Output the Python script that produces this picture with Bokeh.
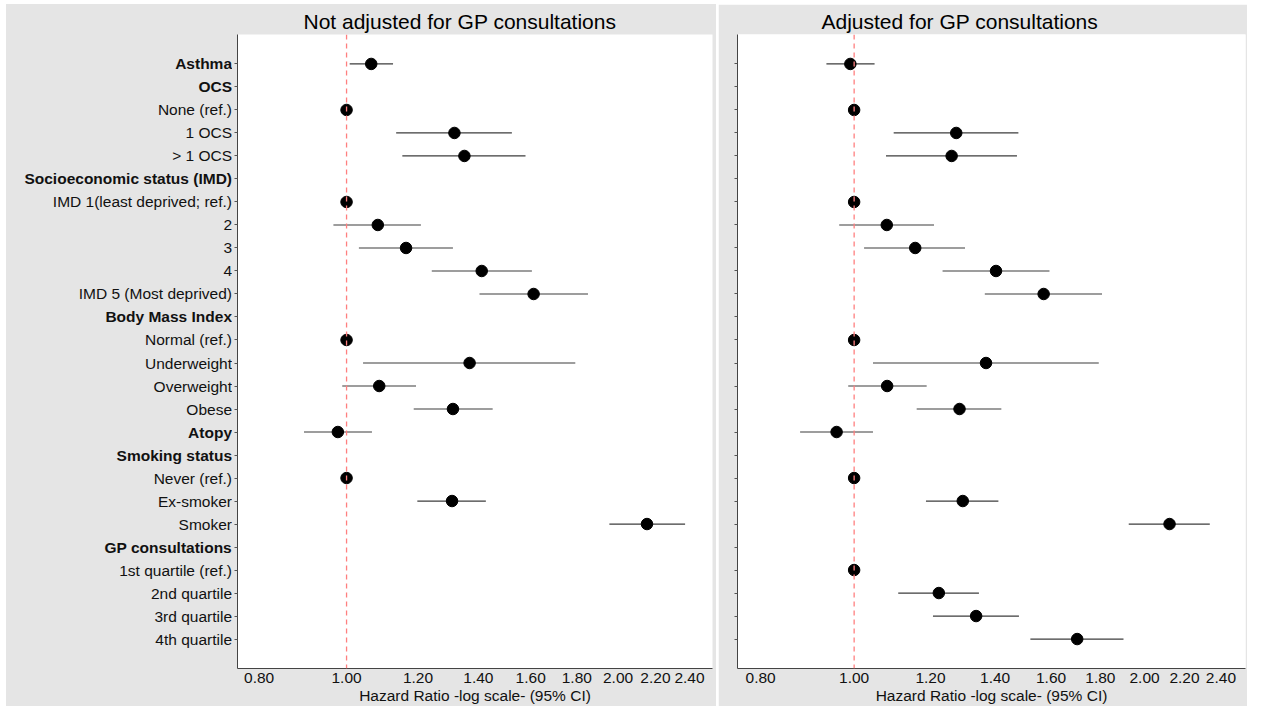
import math
from bokeh.plotting import figure
from bokeh.models import Range1d, FixedTicker, PrintfTickFormatter, Span, ColumnDataSource, Spacer
from bokeh.layouts import row, column
from bokeh.core.properties import value
from bokeh.embed import file_html
from bokeh.resources import INLINE

nan = float("nan")

labels = ["Asthma", "OCS", "None (ref.)", "1 OCS", "> 1 OCS",
          "Socioeconomic status (IMD)", "IMD 1(least deprived; ref.)", "2", "3", "4",
          "IMD 5 (Most deprived)", "Body Mass Index", "Normal (ref.)", "Underweight",
          "Overweight", "Obese", "Atopy", "Smoking status", "Never (ref.)", "Ex-smoker",
          "Smoker", "GP consultations", "1st quartile (ref.)", "2nd quartile",
          "3rd quartile", "4th quartile"]
bold_labels = ["Asthma", "OCS", "Socioeconomic status (IMD)", "Body Mass Index",
               "Atopy", "Smoking status", "GP consultations"]

unadj_hr = [1.065, nan, 1.0, 1.317, 1.351, nan, 1.0, 1.083, 1.164, 1.412, 1.612, nan, 1.0,
            1.369, 1.087, 1.312, 0.978, nan, 1.0, 1.309, 2.153, nan, nan, nan, nan, nan]
unadj_lo = [1.008, nan, 1.0, 1.135, 1.153, nan, 1.0, 0.967, 1.032, 1.243, 1.404, nan, 1.0,
            1.043, 0.989, 1.187, 0.897, nan, 1.0, 1.198, 1.956, nan, nan, nan, nan, nan]
unadj_hi = [1.126, nan, 1.0, 1.525, 1.579, nan, 1.0, 1.209, 1.312, 1.605, 1.852, nan, 1.0,
            1.793, 1.194, 1.452, 1.067, nan, 1.0, 1.427, 2.373, nan, nan, nan, nan, nan]

adj_hr = [0.991, nan, 1.0, 1.276, 1.262, nan, 1.0, 1.081, 1.157, 1.403, 1.572, nan, 1.0,
          1.370, 1.082, 1.286, 0.959, nan, 1.0, 1.296, 2.123, nan, 1.0, 1.224, 1.338, 1.703]
adj_lo = [0.936, nan, 1.0, 1.099, 1.079, nan, 1.0, 0.965, 1.024, 1.235, 1.366, nan, 1.0,
          1.046, 0.986, 1.161, 0.879, nan, 1.0, 1.187, 1.926, nan, 1.0, 1.111, 1.207, 1.523]
adj_hi = [1.050, nan, 1.0, 1.480, 1.475, nan, 1.0, 1.210, 1.303, 1.594, 1.807, nan, 1.0,
          1.793, 1.189, 1.421, 1.046, nan, 1.0, 1.411, 2.337, nan, 1.0, 1.347, 1.482, 1.902]

x_ticks = [0.80, 1.00, 1.20, 1.40, 1.60, 1.80, 2.00, 2.20, 2.40]
x_title = "Hazard Ratio -log scale- (95% CI)"

FONT = "Liberation Sans"
BG = "#e5e5e5"
XMIN, XMAX = 0.757, 2.545
H = 702
TOP = 30
BOTTOM = 38
n = len(labels)
ys = [n - i for i in range(n)]
y_range = Range1d(1 - 1.28, n + 1.28)


def make_panel(title, hr, lo, hi, width, mbl, mbr, title_offset):
    p = figure(width=width, height=H, x_axis_type="log",
               x_range=Range1d(XMIN, XMAX), y_range=y_range,
               output_backend="svg", toolbar_location=None,
               min_border_left=mbl, min_border_right=mbr,
               min_border_top=TOP, min_border_bottom=BOTTOM)
    p.background_fill_color = "white"
    p.border_fill_color = BG
    p.outline_line_color = None
    p.xgrid.visible = False
    p.ygrid.visible = False

    p.title.text = title
    p.title.text_font = FONT
    p.title.text_font_size = "21px"
    p.title.text_font_style = "normal"
    p.title.text_color = "black"
    p.title.align = "left"
    p.title.offset = title_offset
    p.title.standoff = 3

    xa = p.xaxis[0]
    xa.ticker = FixedTicker(ticks=x_ticks, minor_ticks=[])
    xa.formatter = PrintfTickFormatter(format="%.2f")
    xa.major_tick_out = 0
    xa.major_tick_in = 0
    xa.minor_tick_out = 0
    xa.minor_tick_in = 0
    xa.axis_line_color = "#444444"
    xa.major_label_text_font = FONT
    xa.major_label_text_font_size = "15.5px"
    xa.major_label_text_color = "#111111"
    xa.major_label_standoff = 4
    xa.axis_label = x_title
    xa.axis_label_text_font = FONT
    xa.axis_label_text_font_size = "15.5px"
    xa.axis_label_text_font_style = "normal"
    xa.axis_label_text_color = "#111111"
    xa.axis_label_standoff = 1

    ya = p.yaxis[0]
    ya.ticker = FixedTicker(ticks=ys, minor_ticks=[])
    ya.major_label_overrides = {y: "" for y in ys}
    ya.major_tick_out = 3
    ya.major_tick_in = 0
    ya.major_tick_line_color = "#555555"
    ya.minor_tick_line_color = None
    ya.axis_line_color = "#444444"
    ya.major_label_standoff = 0

    p.add_layout(Span(location=1.0, dimension="height", line_color="#ff7f7f",
                      line_dash="5 4", line_width=1.3))

    rows = [i for i in range(n) if not math.isnan(hr[i])]
    src = ColumnDataSource(data=dict(
        y=[ys[i] for i in rows], hr=[hr[i] for i in rows],
        lo=[lo[i] for i in rows], hi=[hi[i] for i in rows]))
    p.segment(x0="lo", y0="y", x1="hi", y1="y", source=src,
              line_color="#3c3c3c", line_width=1.2)
    p.scatter(x="hr", y="y", source=src, size=11.5, fill_color="black",
              line_color="black")
    return p


# row-label strip for the left plot (plain and bold labels)
lab = figure(width=226, height=H, x_range=Range1d(0, 1), y_range=y_range,
             output_backend="svg", toolbar_location=None,
             x_axis_location=None, y_axis_location=None,
             min_border_left=0, min_border_right=0,
             min_border_top=TOP, min_border_bottom=BOTTOM)
lab.background_fill_color = BG
lab.background_fill_alpha = 0
lab.border_fill_color = BG
lab.outline_line_color = None
lab.xgrid.visible = False
lab.ygrid.visible = False
lab_src = ColumnDataSource(data=dict(
    x=[1.0] * n, y=ys, text=labels,
    style=["bold" if l in bold_labels else "normal" for l in labels]))
lab.text(x="x", y="y", text="text", source=lab_src, text_align="right",
         text_baseline="middle", text_font=value(FONT),
         text_font_size=value("15.5px"), text_font_style="style",
         text_color="#111111", x_offset=-0.5)

p1 = make_panel("Not adjusted for GP consultations", unadj_hr, unadj_lo, unadj_hi,
                484, 5, 4, 66)
p2 = make_panel("Adjusted for GP consultations", adj_hr, adj_lo, adj_hi,
                529, 19, 2, 84)

left = row(lab, p1, spacing=0, styles={"background-color": BG})
layout = column(Spacer(height=4),
                row(Spacer(width=6), left, Spacer(width=2), p2))
open("out.html", "w").write(file_html(layout, INLINE))
